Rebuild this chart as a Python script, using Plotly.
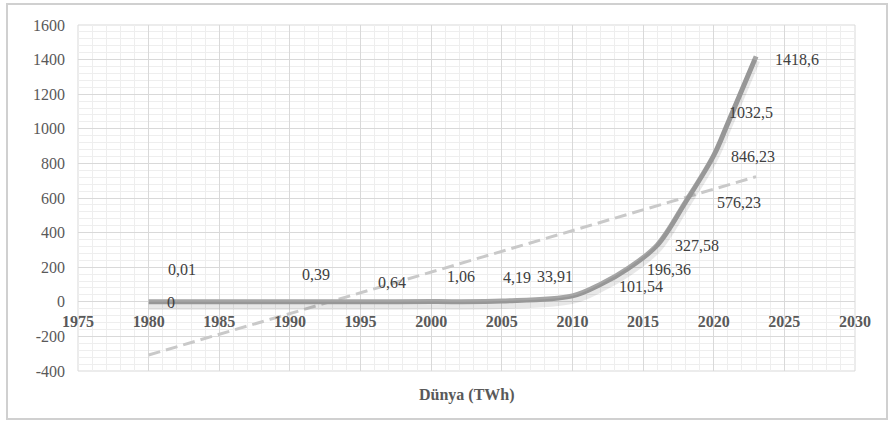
import numpy as np
import plotly.graph_objects as go

# ---- data ----
years = [1980, 1985, 1990, 1995, 2000, 2005, 2010, 2012, 2014, 2016, 2018, 2020, 2021, 2023]
twh = [0, 0.01, 0.39, 0.64, 1.06, 4.19, 33.91, 101.54, 196.36, 327.58, 576.23, 846.23, 1032.5, 1418.6]
x_ticks = [1975, 1980, 1985, 1990, 1995, 2000, 2005, 2010, 2015, 2020, 2025, 2030]
y_ticks = [-400, -200, 0, 200, 400, 600, 800, 1000, 1200, 1400, 1600]
chart_title = "Dünya (TWh)"

# label offsets (px) from each point, as placed in the original
label_shift = [(22, -1), (-37, 32), (26, 27), (31, 19), (30, 25), (15, 24), (-17, 19),
               (40, -2), (40, -2), (40, 0), (54, 0), (39, -1), (23, 11), (41, -3)]

def fmt(v):
    return str(v).replace(".", ",")

# linear trend line computed from data
coef = np.polyfit(years, twh, 1)
trend_x = [years[0], years[-1]]
trend_y = list(np.polyval(coef, trend_x))

# ---- layout geometry ----
W, H = 889, 421
L, R, T, B = 78, 34, 25, 50
plot_w = W - L - R
plot_h = H - T - B
y_lo, y_hi = -400, 1600
shadow_px = 4
d = shadow_px * (y_hi - y_lo) / plot_h

SERIF = "Liberation Serif"
GRID = "#d9d9d9"
MINOR = "#eeeeee"

fig = go.Figure()

# shadow of main line
fig.add_trace(go.Scatter(x=years, y=twh, mode="lines", yaxis="y2",
                         line=dict(color="rgba(0,0,0,0.09)", width=8, shape="spline", smoothing=1),
                         hoverinfo="skip", showlegend=False))
# trend line
fig.add_trace(go.Scatter(x=trend_x, y=trend_y, mode="lines",
                         line=dict(color="#c9c9c9", width=3, dash="12px,6px"),
                         showlegend=False))
# main line
fig.add_trace(go.Scatter(x=years, y=twh, mode="lines",
                         line=dict(color="#a6a6a6", width=5, shape="spline", smoothing=1),
                         showlegend=False))

annotations = []
for yr, v, (dx, dy) in zip(years, twh, label_shift):
    annotations.append(dict(x=yr, y=v, xref="x", yref="y", text=fmt(v), showarrow=False,
                            xshift=dx, yshift=dy,
                            font=dict(family=SERIF, size=16, color="#404040")))
annotations.append(dict(x=0.5, y=(H - B - 395) / plot_h, xref="paper", yref="paper",
                        text="<b>" + chart_title + "</b>", showarrow=False, yanchor="middle",
                        font=dict(family=SERIF, size=16, color="#595959")))

shapes = [
    dict(type="rect", xref="paper", yref="paper", x0=0, x1=1, y0=0, y1=1,
         line=dict(color=GRID, width=1), layer="below"),
    dict(type="rect", xref="paper", yref="paper",
         x0=(7 - L) / plot_w, x1=(887 - L) / plot_w,
         y0=(H - B - 419) / plot_h, y1=(H - B - 4) / plot_h,
         line=dict(color="#d0d0d0", width=2), layer="below"),
]

fig.update_layout(
    width=W, height=H,
    margin=dict(l=L, r=R, t=T, b=B),
    paper_bgcolor="white", plot_bgcolor="white",
    showlegend=False,
    annotations=annotations,
    shapes=shapes,
    xaxis=dict(range=[1975, 2030], tickvals=x_ticks, ticktext=[str(t) for t in x_ticks],
               anchor="free", position=(0 - y_lo) / (y_hi - y_lo),
               showgrid=True, gridcolor=GRID, gridwidth=1, zeroline=False, showline=False,
               ticks="", ticklabelstandoff=8,
               minor=dict(dtick=1, showgrid=True, gridcolor=MINOR, gridwidth=1),
               tickfont=dict(family=SERIF, size=16, color="#595959", weight="bold")),
    yaxis=dict(range=[y_lo, y_hi], tickvals=y_ticks, ticktext=[str(t) for t in y_ticks],
               showgrid=True, gridcolor=GRID, gridwidth=1,
               zeroline=True, zerolinecolor=GRID, zerolinewidth=1, showline=False,
               ticks="", ticklabelstandoff=12,
               minor=dict(dtick=40, showgrid=True, gridcolor=MINOR, gridwidth=1),
               tickfont=dict(family=SERIF, size=16, color="#595959")),
    yaxis2=dict(range=[y_lo + d, y_hi + d], overlaying="y", visible=False, showgrid=False),
)

fig.write_html("out.html", config={"displayModeBar": False},
               post_script="document.body.style.margin='0';")
